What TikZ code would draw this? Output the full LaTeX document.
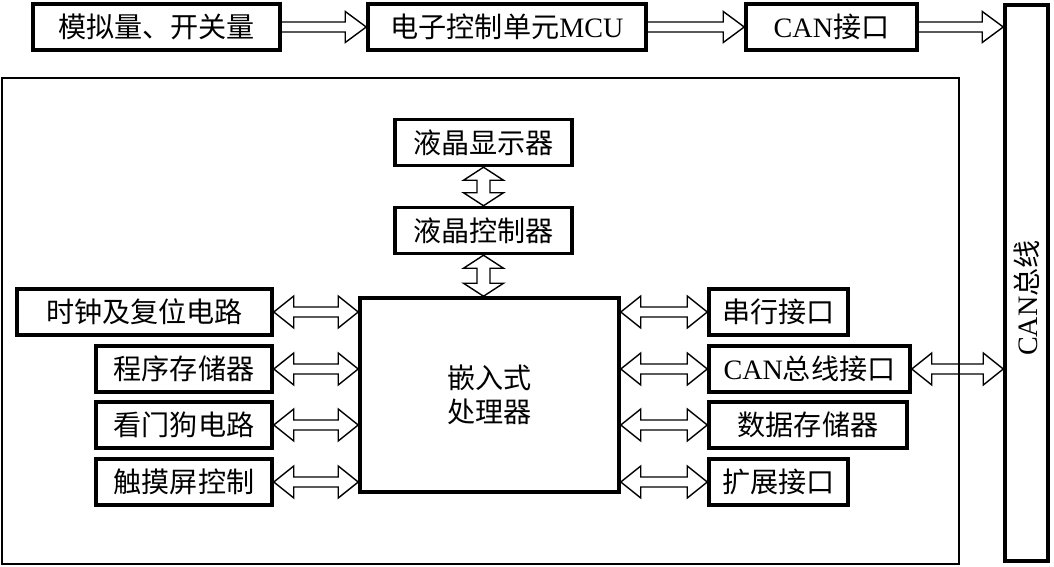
\documentclass[tikz,border=0pt]{standalone}
\usepackage{fontspec}
\setmainfont{Liberation Serif}
\newfontfamily\cjk{Noto Sans CJK SC}
\usetikzlibrary{calc}
\tikzstyle{block} = [rectangle, draw=black, line width=2pt,
inner sep=0pt,
minimum height=9.2mm,
font=\fontsize{16pt}{19pt}\selectfont\cjk,
text centered]
\tikzstyle{frame} = [draw=black, line width=0.8pt]
\tikzstyle{hollow} = [draw=black, line width=0.8pt, line join=miter]

% hollow double arrow, left point to right point
\newcommand\dblh[2]{\draw[hollow] let \p1=(#1), \p2=(#2) in
(\x1,\y1) -- (\x1+4mm,\y1+3.2mm) -- (\x1+4mm,\y1+1mm) -- (\x2-4mm,\y1+1mm)
-- (\x2-4mm,\y1+3.2mm) -- (\x2,\y1) -- (\x2-4mm,\y1-3.2mm) -- (\x2-4mm,\y1-1mm)
-- (\x1+4mm,\y1-1mm) -- (\x1+4mm,\y1-3.2mm) -- cycle;}
% hollow double arrow, upper point to lower point
\newcommand\dblv[2]{\draw[hollow] let \p1=(#1), \p2=(#2) in
(\x1,\y1) -- (\x1+4mm,\y1-2.6mm) -- (\x1+1.3mm,\y1-2.6mm) -- (\x1+1.3mm,\y2+2.6mm)
-- (\x1+4mm,\y2+2.6mm) -- (\x1,\y2) -- (\x1-4mm,\y2+2.6mm) -- (\x1-1.3mm,\y2+2.6mm)
-- (\x1-1.3mm,\y1-2.6mm) -- (\x1-4mm,\y1-2.6mm) -- cycle;}
% hollow single arrow
\newcommand\sgl[2]{\draw[hollow] let \p1=(#1), \p2=(#2) in
(\x1,\y1+1mm) -- (\x2-4.2mm,\y1+1mm) -- (\x2-4.2mm,\y1+3.1mm) -- (\x2,\y1)
-- (\x2-4.2mm,\y1-3.1mm) -- (\x2-4.2mm,\y1-1mm) -- (\x1,\y1-1mm);}

\begin{document}
\begin{tikzpicture}[x=0.2mm, y=-0.2mm]
\useasboundingbox (0,0) rectangle (1054,567);

% outer frame
\draw[frame] (2,78) rectangle (959,564);

% top row
\node (mux) [block, minimum width=49.4mm] at (156.5,27) {模拟量、开关量};
\node (mcu) [block, minimum width=55.6mm] at (507,27) {电子控制单元{\rmfamily MCU}};
\node (caniface) [block, minimum width=34.2mm] at (831.5,27) {{\rmfamily CAN}接口};
\node (bus) [block, minimum width=8.6mm, minimum height=111.2mm] at (1026.5,283) {};
\node (busname) [rotate=90, font=\fontsize{16pt}{19pt}\selectfont] at (1026.5,298) {CAN{\cjk 总线}};

% display
\node (lcd) [block, minimum width=35.4mm] at (483.5,142.5) {液晶显示器};
\node (lcdctl) [block, minimum width=35.4mm] at (483.5,230.5) {液晶控制器};

% processor
\node (cpu) [block, minimum width=51.8mm, minimum height=38.8mm, align=center] at (489.5,395) {嵌入式\\处理器};

% left side
\node (clk) [block, minimum width=51mm] at (144.5,312) {时钟及复位电路};
\node (prog) [block, minimum width=35.2mm] at (184,369) {程序存储器};
\node (wdog) [block, minimum width=35.2mm] at (184,425) {看门狗电路};
\node (touch) [block, minimum width=35.2mm] at (184,482) {触摸屏控制};

% right side
\node (serial) [block, minimum width=27.8mm] at (778.5,312) {串行接口};
\node (canport) [block, minimum width=40.2mm] at (809.5,369) {{\rmfamily CAN}总线接口};
\node (data) [block, minimum width=39.6mm] at (808,425) {数据存储器};
\node (ext) [block, minimum width=27.8mm] at (778.5,482) {扩展接口};

\sgl{mux.east}{mcu.west}
\sgl{mcu.east}{caniface.west}
\sgl{caniface.east}{bus.west}

\dblv{lcd.south}{lcdctl.north}
\dblv{lcdctl.south}{cpu.north}

\dblh{clk.east}{cpu.west}
\dblh{prog.east}{cpu.west}
\dblh{wdog.east}{cpu.west}
\dblh{touch.east}{cpu.west}

\dblh{cpu.east |- serial.west}{serial.west}
\dblh{cpu.east |- canport.west}{canport.west}
\dblh{cpu.east |- data.west}{data.west}
\dblh{cpu.east |- ext.west}{ext.west}

\dblh{canport.east}{bus.west}

\end{tikzpicture}
\end{document}
